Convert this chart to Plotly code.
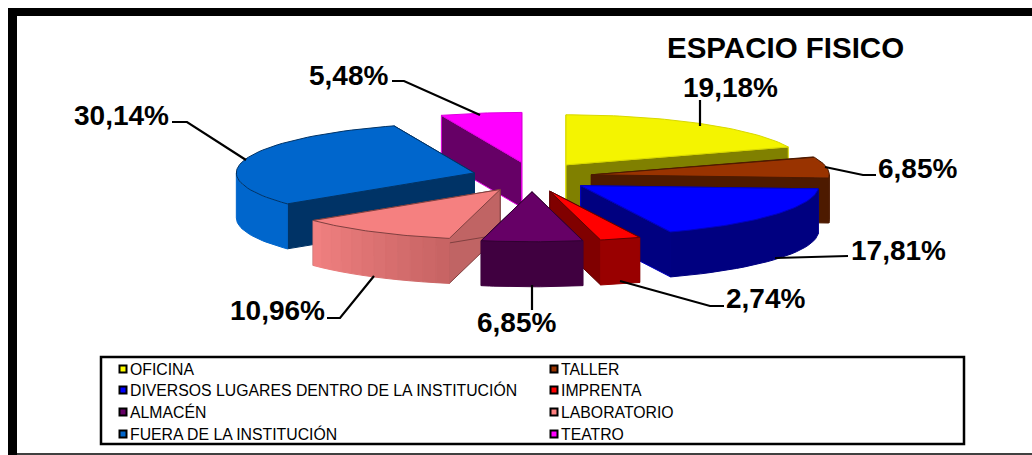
import math
import plotly.graph_objects as go

categories = ["OFICINA", "TALLER", "DIVERSOS LUGARES DENTRO DE LA INSTITUCIÓN", "IMPRENTA",
              "ALMACÉN", "LABORATORIO", "FUERA DE LA INSTITUCIÓN", "TEATRO"]
values = [19.18, 6.85, 17.81, 2.74, 6.85, 10.96, 30.14, 5.48]
top_colors = ["#f4f400", "#993300", "#0000ff", "#ff0000", "#660066", "#f58080", "#0066cc", "#ff00ff"]
side_colors = ["#808000", "#4d1a00", "#000080", "#800000", "#400040", "#c06464", "#003366", "#660066"]
outer_colors = ["#808000", "#4d1a00", "#000080", "#990000", "#400040", "#f08080", "#0066cc", "#660066"]
outer_end_colors = [None, None, None, None, None, "#c86464", None, None]
line_colors = ["#d8d800", "#4d1a00", "#0000c0", "#600000", "#300030", "#804040", "#003366", "#e000e0"]
draw_order = [0, 1, 2, 7, 6, 5, 3, 4]
legend_swatches = ["#ffff00", "#993300", "#0000ff", "#ff0000", "#660066", "#ff8080", "#0066cc", "#ff00ff"]

# layout of the pie on the 1032x455 canvas
CX, CY, RX, RY, DEPTH, EX, EY = 532, 177, 238, 50, 45, 60, 14.8
label_pos = [(730, 87), (917, 168), (898, 250), (765, 298), (516, 322), (277, 310), (121, 115), (348, 75)]
leaders = [
    [(700, 100), (700, 126)],
    [(825, 167), (863, 175), (876, 175)],
    [(775, 258), (848, 256)],
    [(620, 281), (710, 306), (724, 306)],
    [(532, 285), (532, 310)],
    [(374, 276), (340, 318), (327, 318)],
    [(246, 160), (187, 122), (172, 122)],
    [(480, 115), (404, 81), (392, 81)],
]

fig = go.Figure()


def poly(pts, fill, line=None, lw=1):
    xs = [p[0] for p in pts] + [pts[0][0]]
    ys = [p[1] for p in pts] + [pts[0][1]]
    fig.add_trace(go.Scatter(x=xs, y=ys, mode="lines", fill="toself", fillcolor=fill,
                             line=dict(color=line or fill, width=lw), hoverinfo="skip", showlegend=False))


def mix(a, b, t):
    pa = [int(a[i:i + 2], 16) for i in (1, 3, 5)]
    pb = [int(b[i:i + 2], 16) for i in (1, 3, 5)]
    return "#%02x%02x%02x" % tuple(round(x + (y - x) * t) for x, y in zip(pa, pb))


total = sum(values)
bounds = [0]
for v in values:
    bounds.append(bounds[-1] + v / total * 2 * math.pi)

for i in draw_order:
    a0, a1 = bounds[i], bounds[i + 1]
    mid = (a0 + a1) / 2
    ax = CX + EX * math.sin(mid)
    ay = CY - EY * math.cos(mid)

    def pt(a, dz=0):
        return (ax + RX * math.sin(a), ay - RY * math.cos(a) + dz)

    n = 48
    arc = [pt(a0 + (a1 - a0) * k / n) for k in range(n + 1)]
    # radial walls
    for a in (a0, a1):
        poly([(ax, ay), pt(a), pt(a, DEPTH), (ax, ay + DEPTH)], side_colors[i], line_colors[i])
    # outer wall on the front half
    lo, hi = max(a0, math.pi / 2), min(a1, 3 * math.pi / 2)
    if hi > lo:
        segs = 12 if outer_end_colors[i] else 1
        for s in range(segs):
            b0 = hi + (lo - hi) * s / segs
            b1 = hi + (lo - hi) * (s + 1) / segs
            m = 24
            front = [pt(b0 + (b1 - b0) * k / m) for k in range(m + 1)]
            back = [pt(b1 + (b0 - b1) * k / m, DEPTH) for k in range(m + 1)]
            col = mix(outer_colors[i], outer_end_colors[i], s / (segs - 1)) if outer_end_colors[i] else outer_colors[i]
            poly(front + back, col)
    # top face
    poly([(ax, ay)] + arc, top_colors[i], line_colors[i])

shapes = []
# outer frame
shapes.append(dict(type="rect", x0=8, y0=8, x1=17, y1=455, fillcolor="black", line_width=0))
shapes.append(dict(type="rect", x0=8, y0=8, x1=1032, y1=16, fillcolor="black", line_width=0))
shapes.append(dict(type="line", x0=8, y0=454, x1=1032, y1=454, line=dict(color="black", width=1.5)))
# legend box
shapes.append(dict(type="rect", x0=101, y0=357, x1=964, y1=444, fillcolor="white",
                   line=dict(color="black", width=2.5)))
for pts in leaders:
    d = "M " + " L ".join(f"{x},{y}" for x, y in pts)
    shapes.append(dict(type="path", path=d, line=dict(color="black", width=2.2)))

annotations = [dict(x=785, y=47, text="<b>ESPACIO FISICO</b>", showarrow=False,
                    font=dict(family="Liberation Sans", size=29.5, color="black"))]
for v, (x, y) in zip(values, label_pos):
    annotations.append(dict(x=x, y=y, text="<b>%s%%</b>" % f"{v:.2f}".replace(".", ","), showarrow=False,
                            font=dict(family="Liberation Sans", size=28, color="black")))

col_x = [119, 550]
row_y = [369, 390, 412, 434]
for idx, name in enumerate(categories):
    sx, sy = col_x[idx % 2], row_y[idx // 2]
    shapes.append(dict(type="rect", x0=sx + 0.5, y0=sy - 3.5, x1=sx + 7.5, y1=sy + 3.5,
                       fillcolor=legend_swatches[idx], line=dict(color="black", width=2)))
    annotations.append(dict(x=sx + 9, y=sy, text=name, showarrow=False, xanchor="left",
                            font=dict(family="Liberation Sans", size=15.8, color="black")))

fig.update_layout(width=1032, height=455, margin=dict(l=0, r=0, t=0, b=0),
                  paper_bgcolor="white", plot_bgcolor="white", showlegend=False,
                  xaxis=dict(range=[0, 1032], visible=False, fixedrange=True),
                  yaxis=dict(range=[455, 0], visible=False, fixedrange=True),
                  shapes=shapes, annotations=annotations)
fig.write_html("out.html", config=dict(displayModeBar=False),
               post_script="document.body.style.margin='0';document.body.style.overflow='hidden';")
